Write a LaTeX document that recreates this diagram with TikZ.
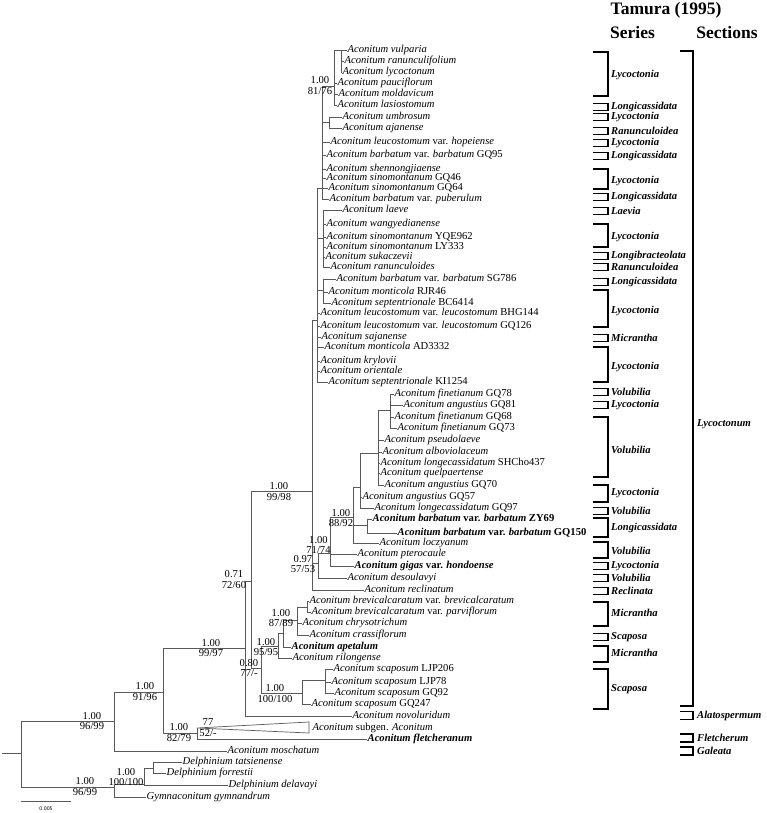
\documentclass[tikz,border=0pt]{standalone}
\usepackage{fontspec}
\setmainfont{Liberation Serif}

\newcommand{\txt}{\fontsize{10.6}{10.4}\selectfont}

\tikzset{
  branch/.style={draw=black!65, line width=0.7pt},
  taxon/.style={anchor=west, inner sep=0.5pt, text height=7pt, text depth=2.4pt, font=\txt},
  support/.style={inner sep=0pt, align=center, font=\txt},
  bracket/.style={draw=black, line width=1.6pt},
  groupname/.style={anchor=west, inner sep=0pt, font=\txt\bfseries\itshape},
  heading/.style={inner sep=0pt, font=\fontsize{17.5}{18}\selectfont\bfseries},
}

\begin{document}
\begin{tikzpicture}[x=1pt, y=-1pt]
  \fill[white] (0,0) rectangle (766,813);
  \useasboundingbox (0,0) rectangle (766,813);

  % Internal nodes of the tree
  \coordinate (root0) at (2,753);
  \coordinate (nroot) at (21,753);
  \coordinate (nA) at (114,721);
  \coordinate (nDel) at (114,787);
  \coordinate (nB) at (163,692);
  \coordinate (nC) at (245,648);
  \coordinate (nD) at (197,733);
  \coordinate (ntri) at (197,728);
  \coordinate (nO) at (251,581);
  \coordinate (nE) at (312,491);
  \coordinate (nB2) at (317,320);
  \coordinate (nA2) at (322,188);
  \coordinate (nTop) at (334,86);
  \coordinate (nVul) at (341,50);
  \coordinate (nUmb) at (329,122);
  \coordinate (nC2) at (323,238);
  \coordinate (nD2) at (323,290);
  \coordinate (nN) at (318,563);
  \coordinate (nM) at (330,553);
  \coordinate (nL) at (353,517);
  \coordinate (nH) at (360,487);
  \coordinate (nG) at (378,453);
  \coordinate (nF) at (390,410);
  \coordinate (nK) at (367,525);
  \coordinate (nP) at (261,668);
  \coordinate (nR) at (278,646);
  \coordinate (nU) at (283,633);
  \coordinate (nS) at (297,620);
  \coordinate (nT1) at (307,607);
  \coordinate (nV) at (302,693);
  \coordinate (nW) at (325,680);
  \coordinate (nDel2) at (144,784);
  \coordinate (nDel3) at (153,768);

  % Backbone
  \draw[branch] (root0) -- (nroot);
  \foreach \pa/\ch in {nroot/nA, nroot/nDel, nA/nB, nB/nC, nB/nD, nD/ntri,
      nC/nO, nO/nE, nO/nP, nE/nB2, nE/nN, nB2/nA2, nB2/nC2, nB2/nD2,
      nA2/nTop, nA2/nUmb, nTop/nVul, nN/nM, nM/nL, nL/nH, nL/nK, nH/nG,
      nG/nF, nP/nR, nP/nV, nR/nU, nU/nS, nS/nT1, nV/nW, nDel/nDel2,
      nDel2/nDel3} {
    \draw[branch] (\pa) |- (\ch);
  }

  % Tips
  \foreach \nm/\pa/\x/\y/\lab in {
      vul/nVul/347/50/{\textit{Aconitum vulparia}},
      ranu/nVul/344/61/{\textit{Aconitum ranunculifolium}},
      lyco/nVul/342/72/{\textit{Aconitum lycoctonum}},
      pauc/nTop/337/83/{\textit{Aconitum pauciflorum}},
      mold/nTop/338/94/{\textit{Aconitum moldavicum}},
      lasi/nTop/337/105/{\textit{Aconitum lasiostomum}},
      umbr/nUmb/342/117/{\textit{Aconitum umbrosum}},
      ajan/nUmb/342/128/{\textit{Aconitum ajanense}},
      hope/nA2/330/142/{\textit{Aconitum leucostomum} var. \textit{hopeiense}},
      gq95/nA2/326/155/{\textit{Aconitum barbatum} var. \textit{barbatum} GQ95},
      shen/nA2/326/169/{\textit{Aconitum shennongjiaense}},
      gq46/nA2/326/178/{\textit{Aconitum sinomontanum} GQ46},
      gq64/nA2/328/188/{\textit{Aconitum sinomontanum} GQ64},
      pube/nA2/329/199/{\textit{Aconitum barbatum} var. \textit{puberulum}},
      laev/nC2/342/210/{\textit{Aconitum laeve}},
      wang/nC2/326/224/{\textit{Aconitum wangyedianense}},
      yqe/nC2/326/237/{\textit{Aconitum sinomontanum} YQE962},
      ly333/nC2/326/247/{\textit{Aconitum sinomontanum} LY333},
      suka/nC2/325/257/{\textit{Aconitum sukaczevii}},
      ranc/nC2/330/267/{\textit{Aconitum ranunculoides}},
      sg786/nD2/336/279/{\textit{Aconitum barbatum} var. \textit{barbatum} SG786},
      rjr/nD2/328/292/{\textit{Aconitum monticola} RJR46},
      bc/nD2/331/303/{\textit{Aconitum septentrionale} BC6414},
      bhg/nB2/320/313/{\textit{Aconitum leucostomum} var. \textit{leucostomum} BHG144},
      gq126/nB2/320/326/{\textit{Aconitum leucostomum} var. \textit{leucostomum} GQ126},
      saja/nB2/321/337/{\textit{Aconitum sajanense}},
      ad/nB2/324/347/{\textit{Aconitum monticola} AD3332},
      kryl/nB2/320/361/{\textit{Aconitum krylovii}},
      orie/nB2/320/371/{\textit{Aconitum orientale}},
      ki/nB2/328/382/{\textit{Aconitum septentrionale} KI1254},
      gq78/nF/394/394/{\textit{Aconitum finetianum} GQ78},
      gq81/nF/403/405/{\textit{Aconitum angustius} GQ81},
      gq68/nF/394/417/{\textit{Aconitum finetianum} GQ68},
      gq73/nF/397/428/{\textit{Aconitum finetianum} GQ73},
      pseu/nG/384/440/{\textit{Aconitum pseudolaeve}},
      albo/nG/382/452/{\textit{Aconitum alboviolaceum}},
      shcho/nG/380/463/{\textit{Aconitum longecassidatum} SHCho437},
      quel/nG/380/473/{\textit{Aconitum quelpaertense}},
      gq70/nG/384/485/{\textit{Aconitum angustius} GQ70},
      gq57/nH/362/497/{\textit{Aconitum angustius} GQ57},
      gq97/nH/374/508/{\textit{Aconitum longecassidatum} GQ97},
      zy69/nK/372/519/{\textbf{\textit{Aconitum barbatum} var. \textit{barbatum} ZY69}},
      gq150/nK/397/533/{\textbf{\textit{Aconitum barbatum} var. \textit{barbatum} GQ150}},
      locz/nL/379/543/{\textit{Aconitum loczyanum}},
      pter/nM/357/554/{\textit{Aconitum pterocaule}},
      giga/nM/354/566/{\textbf{\textit{Aconitum gigas} var. \textit{hondoense}}},
      deso/nN/347/578/{\textit{Aconitum desoulavyi}},
      recl/nE/364/590/{\textit{Aconitum reclinatum}},
      brev/nT1/309/601/{\textit{Aconitum brevicalcaratum} var. \textit{brevicalcaratum}},
      parv/nT1/311/612/{\textit{Aconitum brevicalcaratum} var. \textit{parviflorum}},
      chry/nS/302/623/{\textit{Aconitum chrysotrichum}},
      cras/nS/309/635/{\textit{Aconitum crassiflorum}},
      apet/nU/291/647/{\textbf{\textit{Aconitum apetalum}}},
      rilo/nR/292/658/{\textit{Aconitum rilongense}},
      ljp206/nW/333/669/{\textit{Aconitum scaposum} LJP206},
      ljp78/nW/331/682/{\textit{Aconitum scaposum} LJP78},
      gq92/nW/334/693/{\textit{Aconitum scaposum} GQ92},
      gq247/nV/311/704/{\textit{Aconitum scaposum} GQ247},
      novo/nC/352/716/{\textit{Aconitum novoluridum}},
      flet/nD/367/739/{\textbf{\textit{Aconitum fletcheranum}}},
      mosc/nA/227/751/{\textit{Aconitum moschatum}},
      tats/nDel3/182/762/{\textit{Delphinium tatsienense}},
      forr/nDel3/166/773/{\textit{Delphinium forrestii}},
      dela/nDel2/228/785/{\textit{Delphinium delavayi}},
      gymn/nDel/146/797/{\textit{Gymnaconitum gymnandrum}}} {
    \node[taxon] (\nm) at (\x,\y) {\lab};
    \draw[branch] (\pa) |- (\nm.west);
  }

  % Collapsed subgenus
  \coordinate (triT) at (309,722);
  \coordinate (triB) at (309,733);
  \draw[branch] (ntri) -- (triT) -- (triB) -- cycle;
  \node[taxon] (subg) at (312,728) {\textit{Aconitum} subgen. \textit{Aconitum}};

  % Support values (PP above, BS below)
  \node[support] (sA) at (92,721) {1.00\\96/99};
  \node[support] (sB) at (145,691.5) {1.00\\91/96};
  \node[support] (sC) at (211,648) {1.00\\99/97};
  \node[support] (sD) at (179,732.5) {1.00\\82/79};
  \node[support] (sO) at (234,579.5) {0.71\\72/60};
  \node[support] (sE) at (279,491.5) {1.00\\99/98};
  \node[support] (sTop) at (320,85.5) {1.00\\81/76};
  \node[support] (sN) at (303,564) {0.97\\57/53};
  \node[support] (sM) at (318.5,545) {1.00\\71/74};
  \node[support] (sL) at (341,518) {1.00\\88/92};
  \node[support] (sP) at (249,668) {0.80\\77/-};
  \node[support] (sR) at (266,647) {1.00\\95/95};
  \node[support] (sS) at (281,618) {1.00\\87/89};
  \node[support] (sV) at (275,693.5) {1.00\\100/100};
  \node[support] (sDel) at (85,786.5) {1.00\\96/99};
  \node[support] (sDel2) at (126,777) {1.00\\100/100};
  \node[support] (s77) at (208,722) {77};
  \node[support] (s52) at (208,733) {52/-};

  % Scale bar
  \coordinate (sbL) at (21,801);
  \coordinate (sbR) at (71,801);
  \draw[branch] (sbL) -- (sbR);
  \node[inner sep=0pt, font=\sffamily\fontsize{5.5}{6}\selectfont] (sbtext) at (46,808.5) {0.005};

  % Tamura (1995) columns
  \node[heading] (tamura) at (666,10) {Tamura (1995)};
  \node[heading] (serhead) at (632.5,33) {Series};
  \node[heading] (sechead) at (727,33) {Sections};

  % Series
  \foreach \ya/\yb/\ym/\lab [count=\i] in {
      52/96/75/Lycoctonia, 103.5/110.5/107/Longicassidata,
      113.5/120.5/117/Lycoctonia, 127.5/134.5/131/Ranunculoidea,
      139.5/146.5/143/Lycoctonia, 152.5/159.5/156/Longicassidata,
      169/189/181/Lycoctonia, 193.5/200.5/197/Longicassidata,
      207.5/214.5/211/Laevia, 224/247/237/Lycoctonia,
      252.5/259.5/256/Longibracteolata, 263.5/270.5/267/Ranunculoidea,
      278.5/285.5/282/Longicassidata, 290/327/311/Lycoctonia,
      334.5/341.5/338/Micrantha, 347/382/367/Lycoctonia,
      388.5/395.5/392/Volubilia, 401.5/408.5/405/Lycoctonia,
      417/477/450/Volubilia, 485/502/493/Lycoctonia,
      507.5/514.5/511/Volubilia, 518/537/528/Longicassidata,
      542/558/551/Volubilia, 562.5/569.5/566/Lycoctonia,
      574.5/581.5/578/Volubilia, 587.5/594.5/591/Reclinata,
      602/626/613/Micrantha, 633.5/640.5/637/Scaposa,
      646/662/653/Micrantha, 669/709/689/Scaposa} {
    \draw[bracket] (593,\ya) -| (608,\yb) -- (593,\yb);
    \node[groupname] (series\i) at (611,\ym) {\lab};
  }

  % Sections
  \draw[bracket] (680,51) -| (693,706) -- (680,706);
  \node[groupname] (secLyc) at (697,424) {Lycoctonum};
  \foreach \ya/\yb/\ym/\lab [count=\i] in {
      711.5/719.5/716/Alatospermum, 734/742/738/Fletcherum,
      747/755/751/Galeata} {
    \draw[bracket] (680,\ya) -| (693,\yb) -- (680,\yb);
    \node[groupname] (section\i) at (697,\ym) {\lab};
  }
\end{tikzpicture}
\end{document}
